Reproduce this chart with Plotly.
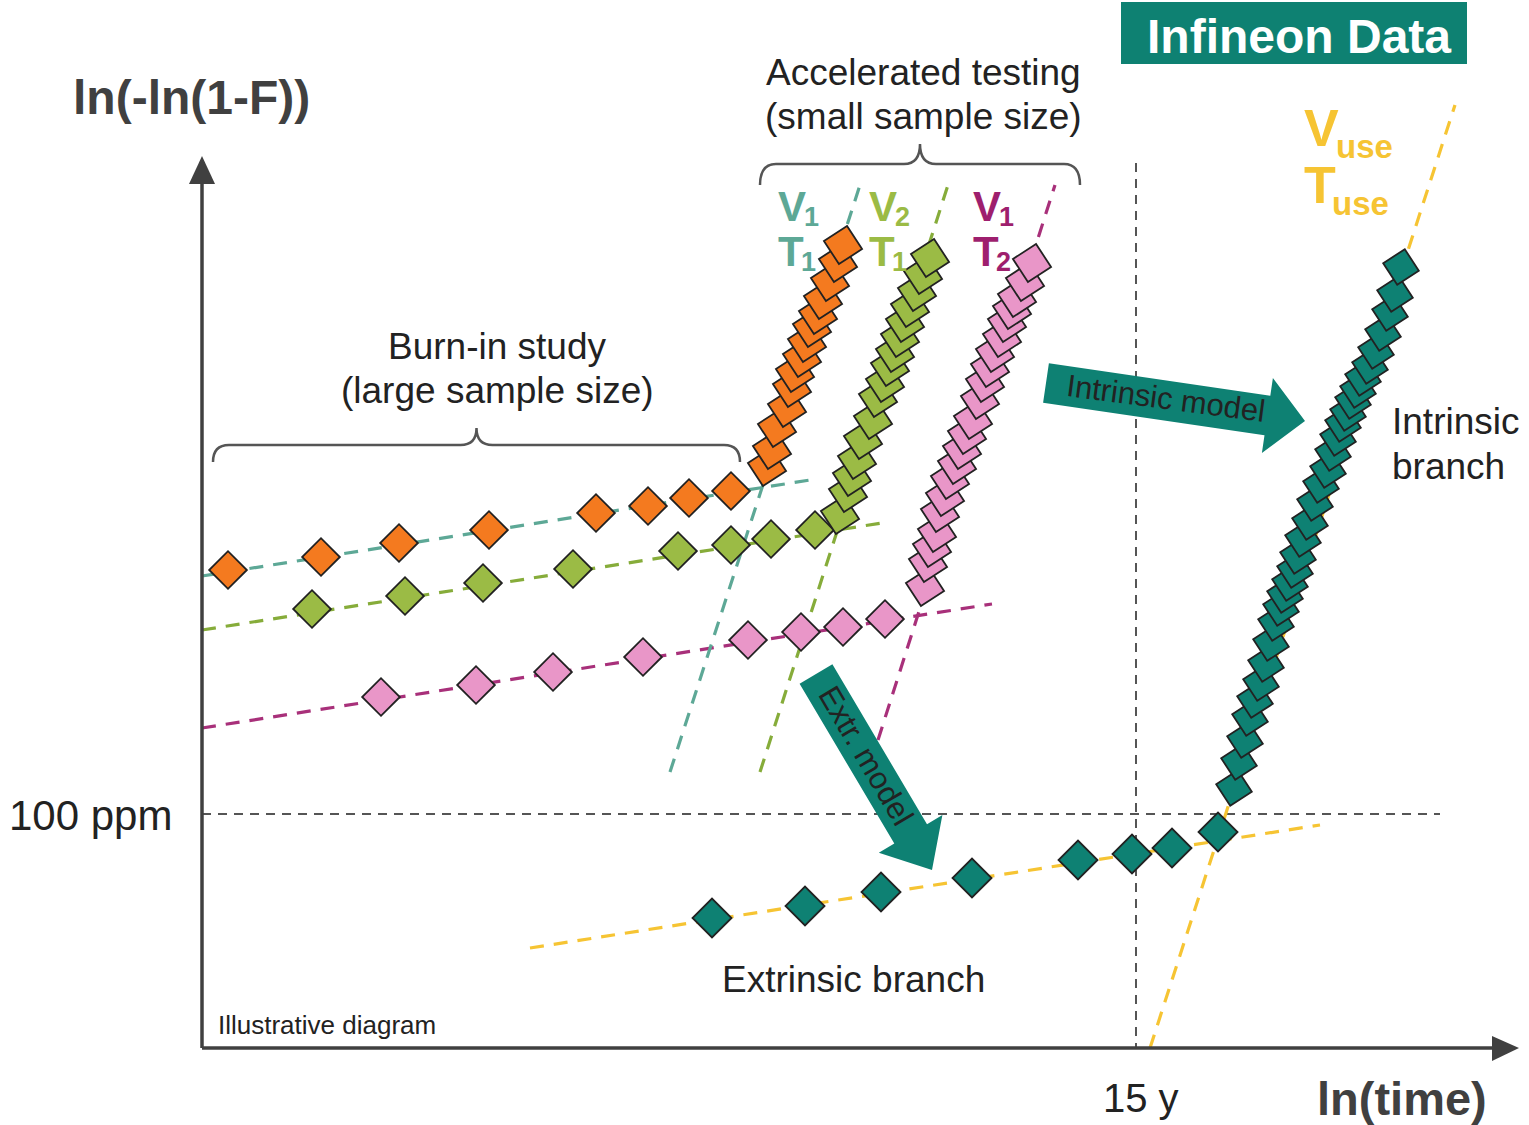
import math
import plotly.graph_objects as go

# ---------------- data (diagram units: x = ln(time) position, y = ln(-ln(1-F)) position, screen-like) ----
# Burn-in study points (low slope, extrinsic-like)
burn_v1t1_x = [228, 321, 399, 489, 596, 648, 689, 731]
burn_v1t1_y = [570, 557, 543, 530, 513, 506, 498, 491]
burn_v2t1_x = [312, 405, 483, 573, 678, 731, 771, 815]
burn_v2t1_y = [609, 596, 583, 569, 551, 545, 539, 530]
burn_v1t2_x = [381, 476, 553, 643, 748, 801, 843, 885]
burn_v1t2_y = [697, 685, 672, 657, 640, 632, 627, 619]

# Accelerated testing points (steep, intrinsic)
acc_v1t1_x = [767, 772, 777, 787, 792, 795, 802, 807, 812, 818, 823, 830, 838, 843]
acc_v1t1_y = [467, 450, 428, 408, 388, 373, 358, 343, 328, 315, 300, 282, 263, 245]
acc_v2t1_x = [840, 848, 852, 857, 863, 873, 878, 885, 890, 895, 900, 905, 910, 917, 923, 930]
acc_v2t1_y = [515, 493, 477, 460, 440, 420, 398, 383, 367, 353, 338, 323, 308, 292, 275, 258]
acc_v1t2_x = [925, 928, 932, 937, 940, 945, 950, 957, 962, 967, 973, 980, 985, 990, 995,
              1002, 1007, 1012, 1017, 1025, 1032]
acc_v1t2_y = [587, 563, 548, 533, 513, 497, 480, 465, 450, 435, 420, 400, 383, 368, 353,
              338, 323, 310, 298, 282, 263]

# Use-condition data (Infineon data)
use_extr_x = [712, 805, 881, 972, 1078, 1132, 1172, 1218]
use_extr_y = [918, 906, 892, 878, 860, 854, 848, 832]
use_intr_x = [1234, 1239, 1245, 1250, 1255, 1261, 1266, 1271, 1276, 1281, 1285, 1290, 1295,
              1298, 1303, 1310, 1315, 1321, 1328, 1333, 1338, 1343, 1348, 1353, 1358, 1363,
              1370, 1376, 1383, 1390, 1395, 1401]
use_intr_y = [788, 762, 740, 718, 700, 683, 664, 643, 623, 608, 595, 583, 570, 556, 539, 522,
              503, 485, 470, 453, 438, 424, 413, 401, 390, 378, 366, 351, 333, 313, 294, 267]

# Fitted (dashed) model lines: end points
fit_burn_v1t1 = ([202, 810], [576, 480])
fit_burn_v2t1 = ([202, 882], [630, 523])
fit_burn_v1t2 = ([202, 992], [728, 604])
fit_acc_v1t1 = ([670, 860], [772, 185])
fit_acc_v2t1 = ([760, 948], [772, 185])
fit_acc_v1t2 = ([878, 1055], [740, 185])
fit_use_extr = ([530, 1320], [948, 825])
fit_use_intr = ([1150, 1455], [1048, 105])

# Reference levels
ppm_level_y = 814
use_time_x = 1136

# Condition labels: (x, V-subscript, T-subscript)
cond_labels = [(776, "1", "1"), (867, "2", "1"), (971, "1", "2")]

# ---------------- styling ----------------
FONT = "Liberation Sans, Arial, sans-serif"
C_ORANGE = "#F47A1F"
C_GREEN = "#9BBB45"
C_PINK = "#E996C8"
C_TEAL = "#0E8173"
L_TEAL = "#5DA896"
L_GREEN = "#86AC3A"
L_PURPLE = "#A8307A"
L_YELLOW = "#F6C433"
T_PURPLE = "#9E1F6E"
AXIS = "#404040"
DASH = "14px,10px"
cond_colors = [L_TEAL, C_GREEN, T_PURPLE]

fig = go.Figure()


def add_line(pts, color, width=3.2, dash=DASH):
    fig.add_trace(go.Scatter(x=pts[0], y=pts[1], mode="lines",
                             line=dict(color=color, width=width, dash=dash),
                             hoverinfo="skip", showlegend=False))


def add_pts(xs, ys, color, size=29, angle=0):
    fig.add_trace(go.Scatter(x=xs, y=ys, mode="markers",
                             marker=dict(symbol="diamond", size=size, color=color, angle=angle,
                                         line=dict(color="#222222", width=1.8)),
                             hoverinfo="skip", showlegend=False))


# reference dashed lines
add_line(([202, 1440], [ppm_level_y, ppm_level_y]), "#555555", width=2, dash="9px,7px")
add_line(([use_time_x, use_time_x], [163, 1048]), "#555555", width=2, dash="9px,7px")

# model lines
add_line(fit_burn_v1t1, L_TEAL)
add_line(fit_burn_v2t1, L_GREEN)
add_line(fit_burn_v1t2, L_PURPLE)
add_line(fit_acc_v1t1, L_TEAL)
add_line(fit_acc_v2t1, L_GREEN)
add_line(fit_acc_v1t2, L_PURPLE)
add_line(fit_use_extr, L_YELLOW)
add_line(fit_use_intr, L_YELLOW)

# data points
add_pts(burn_v1t1_x, burn_v1t1_y, C_ORANGE)
add_pts(burn_v2t1_x, burn_v2t1_y, C_GREEN)
add_pts(burn_v1t2_x, burn_v1t2_y, C_PINK)
add_pts(acc_v1t1_x, acc_v1t1_y, C_ORANGE, size=30, angle=12)
add_pts(acc_v2t1_x, acc_v2t1_y, C_GREEN, size=30, angle=12)
add_pts(acc_v1t2_x, acc_v1t2_y, C_PINK, size=30, angle=12)
add_pts(use_extr_x, use_extr_y, C_TEAL, size=30)
add_pts(use_intr_x, use_intr_y, C_TEAL, size=28, angle=12)

shapes = []
# axes with arrow heads
shapes.append(dict(type="line", x0=202, y0=1048, x1=202, y1=180, line=dict(color=AXIS, width=3.5)))
shapes.append(dict(type="line", x0=202, y0=1048, x1=1495, y1=1048, line=dict(color=AXIS, width=3.5)))
shapes.append(dict(type="path", path="M 189,184 L 202,156 L 215,184 Z", fillcolor=AXIS, line=dict(width=0)))
shapes.append(dict(type="path", path="M 1492,1036 L 1519,1048 L 1492,1061 Z", fillcolor=AXIS, line=dict(width=0)))


def brace(x0, x1, yend, yh, ypeak, r=16):
    xc = (x0 + x1) / 2
    return (f"M {x0},{yend} Q {x0},{yh} {x0 + r},{yh} L {xc - r},{yh} "
            f"Q {xc},{yh} {xc},{ypeak} Q {xc},{yh} {xc + r},{yh} "
            f"L {x1 - r},{yh} Q {x1},{yh} {x1},{yend}")


shapes.append(dict(type="path", path=brace(760, 1080, 185, 164, 144),
                   line=dict(color="#555555", width=2.5)))
shapes.append(dict(type="path", path=brace(213, 740, 462, 445, 428),
                   line=dict(color="#555555", width=2.5)))


def arrow(tail, tip, w, hw, hl):
    dx, dy = tip[0] - tail[0], tip[1] - tail[1]
    n = math.hypot(dx, dy)
    ux, uy = dx / n, dy / n
    px, py = -uy, ux
    bx, by = tip[0] - ux * hl, tip[1] - uy * hl
    pts = [(tail[0] + px * w, tail[1] + py * w), (bx + px * w, by + py * w),
           (bx + px * hw, by + py * hw), tip,
           (bx - px * hw, by - py * hw), (bx - px * w, by - py * w),
           (tail[0] - px * w, tail[1] - py * w)]
    return "M " + " L ".join(f"{x:.1f},{y:.1f}" for x, y in pts) + " Z"


shapes.append(dict(type="path", path=arrow((1046, 383), (1305, 421), 20, 38, 38),
                   fillcolor=C_TEAL, line=dict(width=0), layer="above"))
shapes.append(dict(type="path", path=arrow((816, 674), (932, 870), 19, 37, 42),
                   fillcolor=C_TEAL, line=dict(width=0), layer="above"))

# Infineon Data box
shapes.append(dict(type="rect", x0=1121, y0=2, x1=1467, y1=64, fillcolor="#0E8172",
                   line=dict(width=0), layer="above"))

ann = []


def text(x, y, s, size, color="#222222", xanchor="center", angle=0, bold=False):
    ann.append(dict(x=x, y=y, text=(f"<b>{s}</b>" if bold else s), showarrow=False,
                    xanchor=xanchor, yanchor="middle", textangle=angle,
                    font=dict(family=FONT, size=size, color=color)))


text(191, 97, "ln(-ln(1-F))", 48, AXIS, bold=True)
text(1402, 1098, "ln(time)", 47, AXIS, bold=True)
text(1141, 1098, "15 y", 40, "#222222")
text(90, 815, "100 ppm", 42, "#222222")
text(216, 1025, "Illustrative diagram", 26, "#222222", xanchor="left")
text(1299, 36, "Infineon Data", 48, "#FFFFFF", bold=True)
text(923, 72, "Accelerated testing", 37)
text(923, 116, "(small sample size)", 37)
text(497, 346, "Burn-in study", 37)
text(497, 390, "(large sample size)", 37)
text(1390, 421, "Intrinsic", 37, xanchor="left")
text(1390, 466, "branch", 37, xanchor="left")
text(853, 979, "Extrinsic branch", 37)
text(1166, 398, "Intrinsic model", 31, angle=7.5)
text(866, 755, "Extr. model", 31, angle=59.5)

# condition labels (letter + subscript as separate texts)
for (xl, vs, ts), col in zip(cond_labels, cond_colors):
    text(xl, 206, "V", 42, col, xanchor="left", bold=True)
    text(xl + 26, 217, vs, 27, col, xanchor="left", bold=True)
    text(xl, 251, "T", 42, col, xanchor="left", bold=True)
    text(xl + 23, 262, ts, 27, col, xanchor="left", bold=True)

text(1302, 128, "V", 52, L_YELLOW, xanchor="left", bold=True)
text(1334, 146, "use", 33, L_YELLOW, xanchor="left", bold=True)
text(1302, 185, "T", 52, L_YELLOW, xanchor="left", bold=True)
text(1330, 203, "use", 33, L_YELLOW, xanchor="left", bold=True)

fig.update_layout(
    width=1529, height=1125, autosize=False,
    margin=dict(l=0, r=0, t=0, b=0, pad=0),
    paper_bgcolor="white", plot_bgcolor="white",
    xaxis=dict(range=[0, 1529], visible=False, fixedrange=True),
    yaxis=dict(range=[1125, 0], visible=False, fixedrange=True),
    shapes=shapes, annotations=ann, showlegend=False,
)

fig.write_html("out.html", config={"displayModeBar": False},
               post_script="document.body.style.margin='0';")
